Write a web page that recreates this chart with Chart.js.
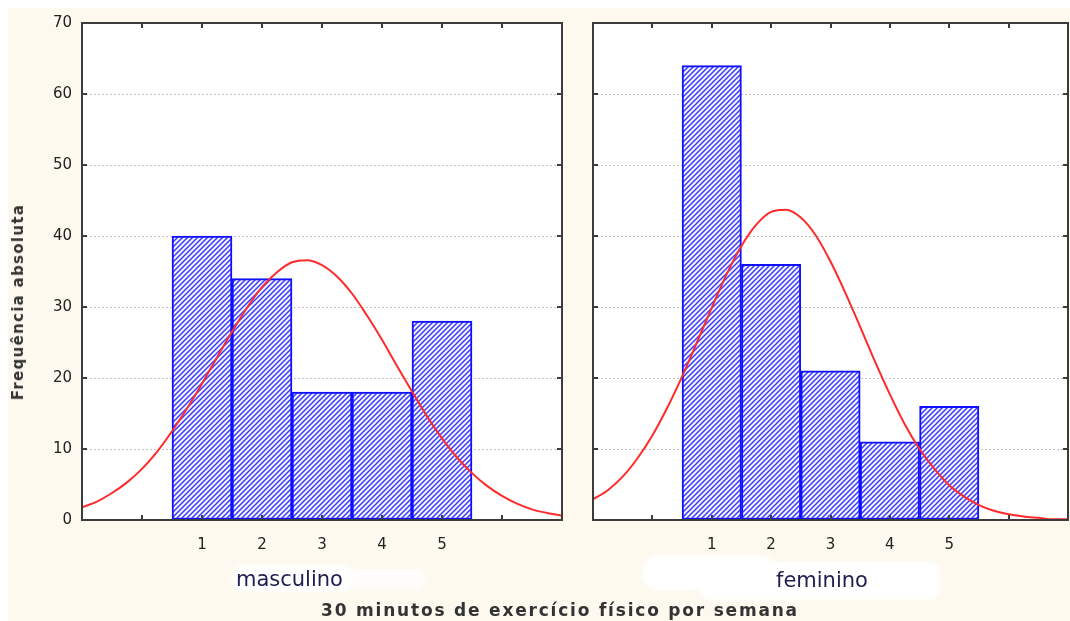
<!DOCTYPE html>
<html>
<head>
<meta charset="utf-8">
<script src="https://cdn.jsdelivr.net/npm/chart.js@4.4.1/dist/chart.umd.min.js"></script>
<style>
  body { margin: 0; width: 1070px; height: 621px; overflow: hidden; background: #fff; position: relative; font-family: "DejaVu Sans", sans-serif; }
  #bg { position: absolute; left: 8px; top: 8px; right: 0; bottom: 0; background: #fdf9ef; }
  canvas { position: absolute; top: 0; }
  #cMasc { left: 0; }
  #cFem { left: 585px; }
  .blob { position: absolute; background: #fff; border-radius: 8px; filter: blur(2px); }
  .lbl { position: absolute; white-space: nowrap; }
  #yTitle { left: 18px; top: 302px; transform: translate(-50%, -50%) rotate(-90deg); font-size: 15px; font-weight: bold; color: #333; letter-spacing: 1.3px; }
  #xTitle { left: 560px; top: 610px; transform: translate(-50%, -50%); font-size: 17px; font-weight: bold; color: #333; letter-spacing: 1.8px; }
  .grp { font-size: 21px; color: #1e1e50; transform: translateY(-50%); }
</style>
</head>
<body>
<div id="bg"></div>
<div class="blob" style="left:232px; top:565px; width:120px; height:27px;"></div>
<div class="blob" style="left:350px; top:569px; width:75px; height:19px; opacity:0.8;"></div>
<div class="blob" style="left:642px; top:556px; width:135px; height:34px; border-radius:16px;"></div>
<div class="blob" style="left:700px; top:562px; width:240px; height:38px; border-radius:10px;"></div>
<canvas id="cMasc" width="575" height="621"></canvas>
<canvas id="cFem" width="491" height="621"></canvas>
<div id="yTitle" class="lbl">Frequência absoluta</div>
<div class="lbl grp" style="left:236px; top:579px;">masculino</div>
<div class="lbl grp" style="left:776px; top:580px;">feminino</div>
<div id="xTitle" class="lbl">30 minutos de exercício físico por semana</div>
<script>
// categories and frequencies per group
const bins = [1, 2, 3, 4, 5];
const masculino = [40, 34, 18, 18, 28];
const feminino = [64, 36, 21, 11, 16];

// fitted normal curves, sampled along the x axis
const curveX = [-1, -0.75, -0.5, -0.25, 0, 0.25, 0.5, 0.75, 1, 1.25, 1.5, 1.75, 2, 2.25, 2.5, 2.75,
  3, 3.25, 3.5, 3.75, 4, 4.25, 4.5, 4.75, 5, 5.25, 5.5, 5.75, 6, 6.25, 6.5, 6.75, 7];
const curveMasc = [1.8, 2.6, 3.8, 5.3, 7.2, 9.6, 12.5, 15.7, 19.2, 22.9, 26.5, 29.9, 32.8, 34.9, 36.3, 36.6,
  35.9, 34.3, 31.9, 28.8, 25.4, 21.7, 18.1, 14.6, 11.5, 8.8, 6.6, 4.8, 3.4, 2.3, 1.5, 1.0, 0.6];
const curveFem = [2.9, 4.2, 6.1, 8.7, 11.9, 15.8, 20.2, 25.0, 29.9, 34.6, 38.6, 41.6, 43.4, 43.7, 42.6, 40.1,
  36.4, 32.0, 27.2, 22.3, 17.7, 13.5, 10.0, 7.2, 4.9, 3.3, 2.1, 1.3, 0.8, 0.5, 0.3, 0.1, 0.1];

const xMin = -1, xMax = 7;
const yMax = 70, yStep = 10;

function hatch() {
    let c = document.createElement('canvas');
    c.width = c.height = 5;
    let g = c.getContext('2d');
    g.fillStyle = '#f4f4ff';
    g.fillRect(0, 0, 5, 5);
    g.strokeStyle = '#3a3aff';
    g.lineWidth = 1.5;
    g.beginPath();
    g.moveTo(0, 5); g.lineTo(5, 0);
    g.moveTo(-1, 1); g.lineTo(1, -1);
    g.moveTo(4, 6); g.lineTo(6, 4);
    g.stroke();
    return g.createPattern(c, 'repeat');
}

// white plot area, dark frame and small inward tick marks
const framePlugin = {
    id: 'frame',
    beforeDraw(chart) {
        let a = chart.chartArea, ctx = chart.ctx;
        ctx.save();
        ctx.fillStyle = '#fff';
        ctx.fillRect(a.left, a.top, a.right - a.left, a.bottom - a.top);
        ctx.restore();
    },
    afterDraw(chart) {
        let a = chart.chartArea, ctx = chart.ctx;
        let xs = chart.scales.x, ys = chart.scales.y;
        ctx.save();
        ctx.strokeStyle = '#3c3c3c';
        ctx.lineWidth = 2;
        ctx.strokeRect(a.left, a.top, a.right - a.left, a.bottom - a.top);
        ctx.beginPath();
        for (let v = xMin + 1; v < xMax; v++) {
            let px = Math.round(xs.getPixelForValue(v));
            ctx.moveTo(px, a.bottom); ctx.lineTo(px, a.bottom - 5);
            ctx.moveTo(px, a.top); ctx.lineTo(px, a.top + 5);
        }
        for (let v = yStep; v < yMax; v += yStep) {
            let py = Math.round(ys.getPixelForValue(v));
            ctx.moveTo(a.left, py); ctx.lineTo(a.left + 5, py);
            ctx.moveTo(a.right, py); ctx.lineTo(a.right - 5, py);
        }
        ctx.stroke();
        ctx.restore();
    }
};

function makeChart(id, values, curve, showY, pad) {
    return new Chart(document.getElementById(id), {
        type: 'bar',
        data: {
            datasets: [{
                type: 'line',
                data: curveX.map((x, i) => ({ x: x, y: curve[i] })),
                borderColor: '#ff2a2a',
                borderWidth: 2,
                pointRadius: 0,
                cubicInterpolationMode: 'monotone',
                order: 0
            }, {
                type: 'bar',
                data: bins.map((b, i) => ({ x: b, y: values[i] })),
                backgroundColor: hatch(),
                borderColor: '#1010ff',
                borderWidth: 2,
                borderSkipped: false,
                barPercentage: 1,
                categoryPercentage: 1,
                order: 1
            }]
        },
        options: {
            responsive: false,
            animation: false,
            layout: { padding: pad },
            plugins: { legend: { display: false }, tooltip: { enabled: false } },
            scales: {
                x: {
                    type: 'linear',
                    offset: false,
                    min: xMin,
                    max: xMax,
                    ticks: {
                        stepSize: 1,
                        padding: 8,
                        color: '#222',
                        font: { family: 'DejaVu Sans', size: 15 },
                        callback: v => bins.includes(v) ? v : ''
                    },
                    grid: { display: false },
                    border: { display: false },
                    afterFit: s => { s.height = 101; }
                },
                y: {
                    min: 0,
                    max: yMax,
                    ticks: {
                        display: showY,
                        stepSize: yStep,
                        padding: 10,
                        color: '#222',
                        font: { family: 'DejaVu Sans', size: 15 }
                    },
                    grid: {
                        drawTicks: false,
                        color: c => (c.tick.value === 0 || c.tick.value === yMax) ? 'rgba(0,0,0,0)' : '#c4c4c4',
                        lineWidth: 1
                    },
                    border: { display: false, dash: [2, 2] },
                    afterFit: s => { s.width = showY ? 82 : 0; }
                }
            }
        },
        plugins: [framePlugin]
    });
}

makeChart('cMasc', masculino, curveMasc, true, { top: 23, right: 13, left: 0, bottom: 0 });
makeChart('cFem', feminino, curveFem, false, { top: 23, right: 0, left: 8, bottom: 0 });
</script>
</body>
</html>
